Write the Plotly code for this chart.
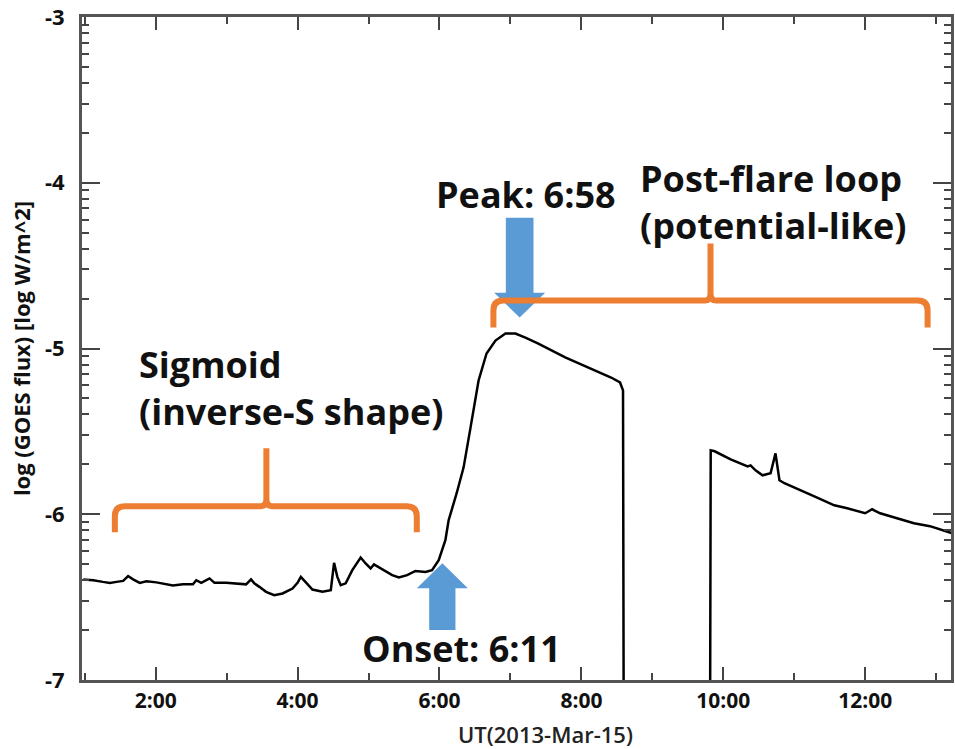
import math
import plotly.graph_objects as go

# ---------------- data ----------------
# time in decimal hours UT (2013-Mar-15), log10 GOES flux
t_hours = [
    0.979, 1.119, 1.256, 1.354, 1.448, 1.541, 1.611, 1.681, 1.775, 1.869,
    2.010, 2.150, 2.243, 2.383, 2.524, 2.572, 2.642, 2.758, 2.829, 2.993,
    3.133, 3.274, 3.344, 3.390, 3.461, 3.555, 3.671, 3.788, 3.928, 3.999,
    4.046, 4.117, 4.209, 4.350, 4.468, 4.514, 4.560, 4.608, 4.678, 4.771,
    4.889, 4.959, 5.029, 5.076, 5.170, 5.333, 5.427, 5.544, 5.661, 5.802,
    5.895, 5.989, 6.083, 6.129, 6.242, 6.340, 6.438, 6.551, 6.663, 6.789,
    6.930, 7.070, 7.211, 7.393, 7.772, 8.138, 8.419, 8.545, 8.587, 8.600,
    None,
    9.810, 9.823, 9.879, 10.104, 10.343, 10.385, 10.455, 10.553, 10.667, 10.736,
    10.792, 10.862, 11.284, 11.565, 11.747, 12.000, 12.098, 12.211, 12.449, 12.688,
    12.913, 13.110, 13.220,
]
log_flux = [
    -6.393, -6.398, -6.408, -6.414, -6.408, -6.402, -6.373, -6.393, -6.414, -6.405,
    -6.411, -6.423, -6.430, -6.423, -6.422, -6.398, -6.414, -6.387, -6.414, -6.414,
    -6.417, -6.423, -6.393, -6.417, -6.438, -6.468, -6.488, -6.478, -6.448, -6.414,
    -6.378, -6.414, -6.454, -6.468, -6.458, -6.293, -6.378, -6.428, -6.417, -6.337,
    -6.261, -6.297, -6.327, -6.303, -6.327, -6.367, -6.381, -6.367, -6.342, -6.348,
    -6.337, -6.277, -6.157, -6.036, -5.873, -5.717, -5.476, -5.193, -5.030, -4.952,
    -4.910, -4.910, -4.934, -4.970, -5.054, -5.120, -5.175, -5.205, -5.253, -8.000,
    None,
    -8.000, -5.614, -5.620, -5.669, -5.711, -5.705, -5.735, -5.765, -5.753, -5.633,
    -5.795, -5.813, -5.892, -5.946, -5.964, -5.994, -5.970, -5.994, -6.024, -6.054,
    -6.072, -6.102, -6.114,
]

x_range = [0.961, 13.21]
y_range = [-7, -3]
x_tick_vals = [2, 4, 6, 8, 10, 12]
x_tick_text = ["2:00", "4:00", "6:00", "8:00", "10:00", "12:00"]
x_minor_vals = [1, 3, 5, 7, 9, 11, 13]
y_tick_vals = [-7, -6, -5, -4, -3]
y_tick_text = ["-7", "-6", "-5", "-4", "-3"]
y_minor_vals = [n + math.log10(k) for n in range(-7, -3) for k in range(2, 10)]

# annotation geometry (data units: hours, log flux)
sigmoid_bracket = dict(x0=1.424, x1=5.68, xc=3.56, yb=-5.952, ye=-6.108, yt=-5.602)
post_bracket = dict(x0=6.76, x1=12.88, xc=9.82, yb=-4.711, ye=-4.873, yt=-4.367)
peak_arrow = dict(xc=7.13, hs=0.195, hh=0.36, y_tail=-4.211, y_base=-4.663, y_tip=-4.813)
onset_arrow = dict(xc=6.04, hs=0.185, hh=0.36, y_tail=-6.699, y_base=-6.446, y_tip=-6.295)

ORANGE = "#ED7D31"
BLUE = "#5B9BD5"
FONT = "Open Sans"
TXT = "#111111"


def bracket_path(x0, x1, xc, yb, ye, yt, rx=0.14, ry=0.06, rx2=0.08, ry2=0.045):
    return (f"M{x0},{ye} L{x0},{yb - ry} Q{x0},{yb} {x0 + rx},{yb} "
            f"L{xc - rx2},{yb} Q{xc},{yb} {xc},{yb + ry2} L{xc},{yt} "
            f"M{xc},{yb + ry2} Q{xc},{yb} {xc + rx2},{yb} "
            f"L{x1 - rx},{yb} Q{x1},{yb} {x1},{yb - ry} L{x1},{ye}")


def arrow_path(xc, hs, hh, y_tail, y_base, y_tip):
    return (f"M{xc - hs},{y_tail} L{xc + hs},{y_tail} L{xc + hs},{y_base} "
            f"L{xc + hh},{y_base} L{xc},{y_tip} L{xc - hh},{y_base} "
            f"L{xc - hs},{y_base} Z")


fig = go.Figure()
fig.add_trace(go.Scatter(
    x=t_hours, y=log_flux, mode="lines",
    line=dict(color="#000000", width=2.5),
    connectgaps=False, hoverinfo="skip",
))

shapes = []
for a in (peak_arrow, onset_arrow):
    shapes.append(dict(type="path", xref="x", yref="y", path=arrow_path(**a),
                       fillcolor=BLUE, line=dict(width=0), layer="below"))
for b in (sigmoid_bracket, post_bracket):
    shapes.append(dict(type="path", xref="x", yref="y", path=bracket_path(**b),
                       line=dict(color=ORANGE, width=6), layer="above"))

big = dict(family=FONT, size=36, color=TXT, weight="bold")
texts = [
    ("Sigmoid<br>(inverse-S shape)", 1.743, -5.238),
    ("Peak: 6:58", 5.918, -4.068),
    ("Post-flare loop<br>(potential-like)", 8.80, -4.117),
    ("Onset: 6:11", 4.879, -6.807),
]
annotations = [dict(text=s, x=x, y=y, xref="x", yref="y", xanchor="left",
                    yanchor="middle", align="left", showarrow=False, font=big)
               for s, x, y in texts]
annotations.append(dict(text="UT(2013-Mar-15)", x=0.533, y=-0.0815, xref="paper",
                        yref="paper", xanchor="center", yanchor="middle",
                        showarrow=False,
                        font=dict(family=FONT, size=22, color="#222222", weight=600)))

axis_common = dict(showline=True, linewidth=3, linecolor="#555555",
                   mirror="allticks", ticks="inside", tickwidth=2,
                   tickcolor="#444444", showgrid=False, zeroline=False,
                   ticklabeloverflow="allow")

fig.update_layout(
    width=955, height=749,
    margin=dict(l=82, r=1, t=16, b=69),
    plot_bgcolor="white", paper_bgcolor="white",
    showlegend=False,
    shapes=shapes, annotations=annotations,
    xaxis=dict(range=x_range, tickmode="array", tickvals=x_tick_vals,
               ticktext=x_tick_text, ticklen=13, ticklabelstandoff=0,
               tickfont=dict(family=FONT, size=21, color=TXT, weight="bold"),
               minor=dict(tickmode="array", tickvals=x_minor_vals, ticks="inside",
                          ticklen=7, tickwidth=2, tickcolor="#444444"),
               **axis_common),
    yaxis=dict(range=y_range, tickmode="array", tickvals=y_tick_vals,
               ticktext=y_tick_text, ticklen=18, ticklabelstandoff=10,
               tickfont=dict(family=FONT, size=22, color=TXT, weight="bold"),
               title=dict(text="log (GOES flux) [log W/m^2]", standoff=9,
                          font=dict(family=FONT, size=22, color=TXT, weight="bold")),
               minor=dict(tickmode="array", tickvals=y_minor_vals, ticks="inside",
                          ticklen=7, tickwidth=2, tickcolor="#444444"),
               **axis_common),
)

fig.write_html("out.html")
